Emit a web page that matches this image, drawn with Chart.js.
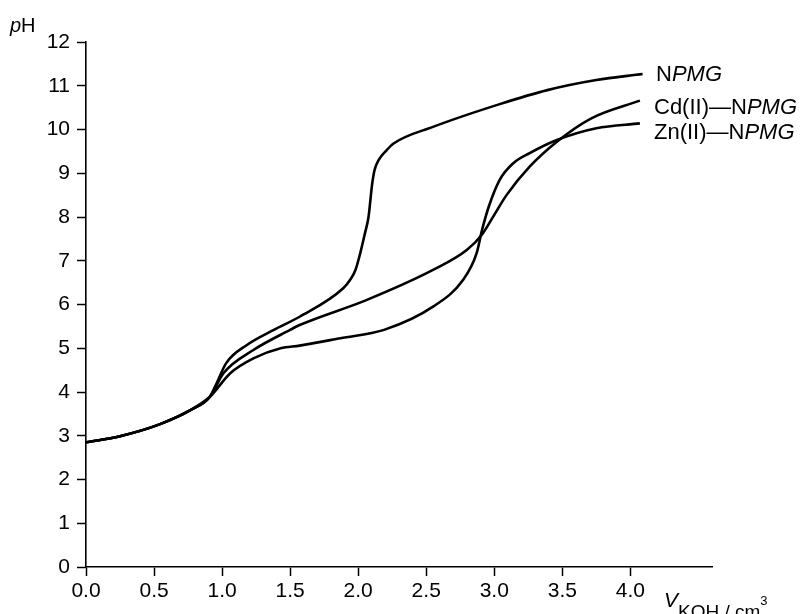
<!DOCTYPE html>
<html>
<head>
<meta charset="utf-8">
<script src="https://cdn.jsdelivr.net/npm/chart.js@4/dist/chart.umd.min.js"></script>
<style>
  html, body { margin: 0; padding: 0; background: #fff; }
  #wrap { width: 802px; height: 614px; }
</style>
</head>
<body>
<div id="wrap"><canvas id="chart" width="802" height="614"></canvas></div>
<script>
// volumen de KOH (cm3) y pH
const npmgX = [0, 0.25, 0.54, 0.77, 0.91, 0.96, 1.03, 1.18, 1.38, 1.57, 1.89, 1.94, 1.98, 2.015, 2.05, 2.076, 2.09, 2.10, 2.12, 2.15, 2.21, 2.26, 2.55, 3.04, 3.39, 3.75, 4.09];
const npmgY = [2.85, 2.99, 3.26, 3.59, 3.89, 4.2, 4.66, 5.07, 5.42, 5.72, 6.37, 6.56, 6.79, 7.17, 7.63, 8.0, 8.39, 8.69, 9.07, 9.30, 9.53, 9.68, 10.06, 10.58, 10.90, 11.13, 11.27];

const cdX = [0, 0.25, 0.54, 0.77, 0.91, 1.01, 1.23, 1.5, 1.57, 2.06, 2.55, 2.80, 2.91, 3.0, 3.09, 3.26, 3.46, 3.71, 4.07];
const cdY = [2.85, 2.99, 3.26, 3.59, 3.89, 4.43, 4.96, 5.42, 5.53, 6.10, 6.79, 7.25, 7.6, 8.05, 8.5, 9.15, 9.72, 10.25, 10.66];

const znX = [0, 0.25, 0.54, 0.77, 0.91, 1.06, 1.23, 1.43, 1.57, 1.87, 2.19, 2.55, 2.77, 2.87, 2.91, 2.96, 3.04, 3.14, 3.26, 3.46, 3.75, 4.07];
const znY = [2.85, 2.99, 3.26, 3.59, 3.89, 4.43, 4.77, 5.0, 5.06, 5.23, 5.42, 5.95, 6.56, 7.17, 7.70, 8.24, 8.85, 9.23, 9.46, 9.76, 10.03, 10.14];

const xTicks = [0, 0.5, 1.0, 1.5, 2.0, 2.5, 3.0, 3.5, 4.0];
const yTicks = [0, 1, 2, 3, 4, 5, 6, 7, 8, 9, 10, 11, 12];

const FONT = '"Liberation Sans", Arial, sans-serif';

function pts(xs, ys) {
  return xs.map((x, i) => ({ x: x, y: ys[i] }));
}

function serie(label, xs, ys) {
  return {
    label: label,
    data: pts(xs, ys),
    borderColor: '#000',
    borderWidth: 2.6,
    pointRadius: 0,
    fill: false,
    cubicInterpolationMode: 'monotone'
  };
}

// escribe trozos de texto con distinto estilo uno detras de otro
function drawRuns(ctx, x, y, runs) {
  let cx = x;
  runs.forEach(r => {
    ctx.font = r.font;
    ctx.fillText(r.text, cx, y + (r.dy || 0));
    cx += ctx.measureText(r.text).width;
  });
}

const textos = {
  id: 'textos',
  afterDraw(chart) {
    const ctx = chart.ctx;
    ctx.save();
    ctx.fillStyle = '#000';
    ctx.textBaseline = 'alphabetic';
    ctx.textAlign = 'left';
    const reg = s => s + 'px ' + FONT;
    const ita = s => 'italic ' + s + 'px ' + FONT;

    // titulo eje y
    drawRuns(ctx, 10, 32, [{ text: 'p', font: ita(20) }, { text: 'H', font: reg(20) }]);

    // etiquetas de las curvas
    drawRuns(ctx, 656, 81, [{ text: 'N', font: reg(22) }, { text: 'PMG', font: ita(22) }]);
    drawRuns(ctx, 654, 114, [{ text: 'Cd(II)\u2014N', font: reg(22) }, { text: 'PMG', font: ita(22) }]);
    drawRuns(ctx, 654, 139, [{ text: 'Zn(II)\u2014N', font: reg(22) }, { text: 'PMG', font: ita(22) }]);

    // titulo eje x
    drawRuns(ctx, 664, 607, [
      { text: 'V', font: ita(21) },
      { text: 'KOH / cm', font: reg(19), dy: 11 },
      { text: '3', font: reg(13), dy: -2 }
    ]);
    ctx.restore();
  }
};

const ctx = document.getElementById('chart').getContext('2d');
new Chart(ctx, {
  type: 'line',
  data: {
    datasets: [
      serie('NPMG', npmgX, npmgY),
      serie('Cd(II)-NPMG', cdX, cdY),
      serie('Zn(II)-NPMG', znX, znY)
    ]
  },
  options: {
    responsive: false,
    animation: false,
    layout: { padding: { top: 42, right: 90, bottom: 0, left: 0 } },
    plugins: {
      legend: { display: false },
      tooltip: { enabled: false }
    },
    scales: {
      x: {
        type: 'linear',
        min: 0,
        max: 4.6,
        afterBuildTicks: s => { s.ticks = xTicks.map(v => ({ value: v })); },
        afterFit: s => { s.height = 47; },
        ticks: {
          color: '#000',
          padding: 3,
          maxRotation: 0,
          font: { family: FONT, size: 21 },
          callback: v => v.toFixed(1)
        },
        grid: { drawOnChartArea: false, drawTicks: true, tickLength: 9, tickWidth: 1.5, tickColor: '#000' },
        border: { display: true, color: '#000', width: 1.6 }
      },
      y: {
        min: 0,
        max: 12,
        afterBuildTicks: s => { s.ticks = yTicks.map(v => ({ value: v })); },
        afterFit: s => { s.width = 86; },
        ticks: {
          color: '#000',
          padding: 7,
          font: { family: FONT, size: 21 }
        },
        grid: { drawOnChartArea: false, drawTicks: true, tickLength: 9, tickWidth: 1.5, tickColor: '#000' },
        border: { display: true, color: '#000', width: 1.6 }
      }
    }
  },
  plugins: [textos]
});
</script>
</body>
</html>
